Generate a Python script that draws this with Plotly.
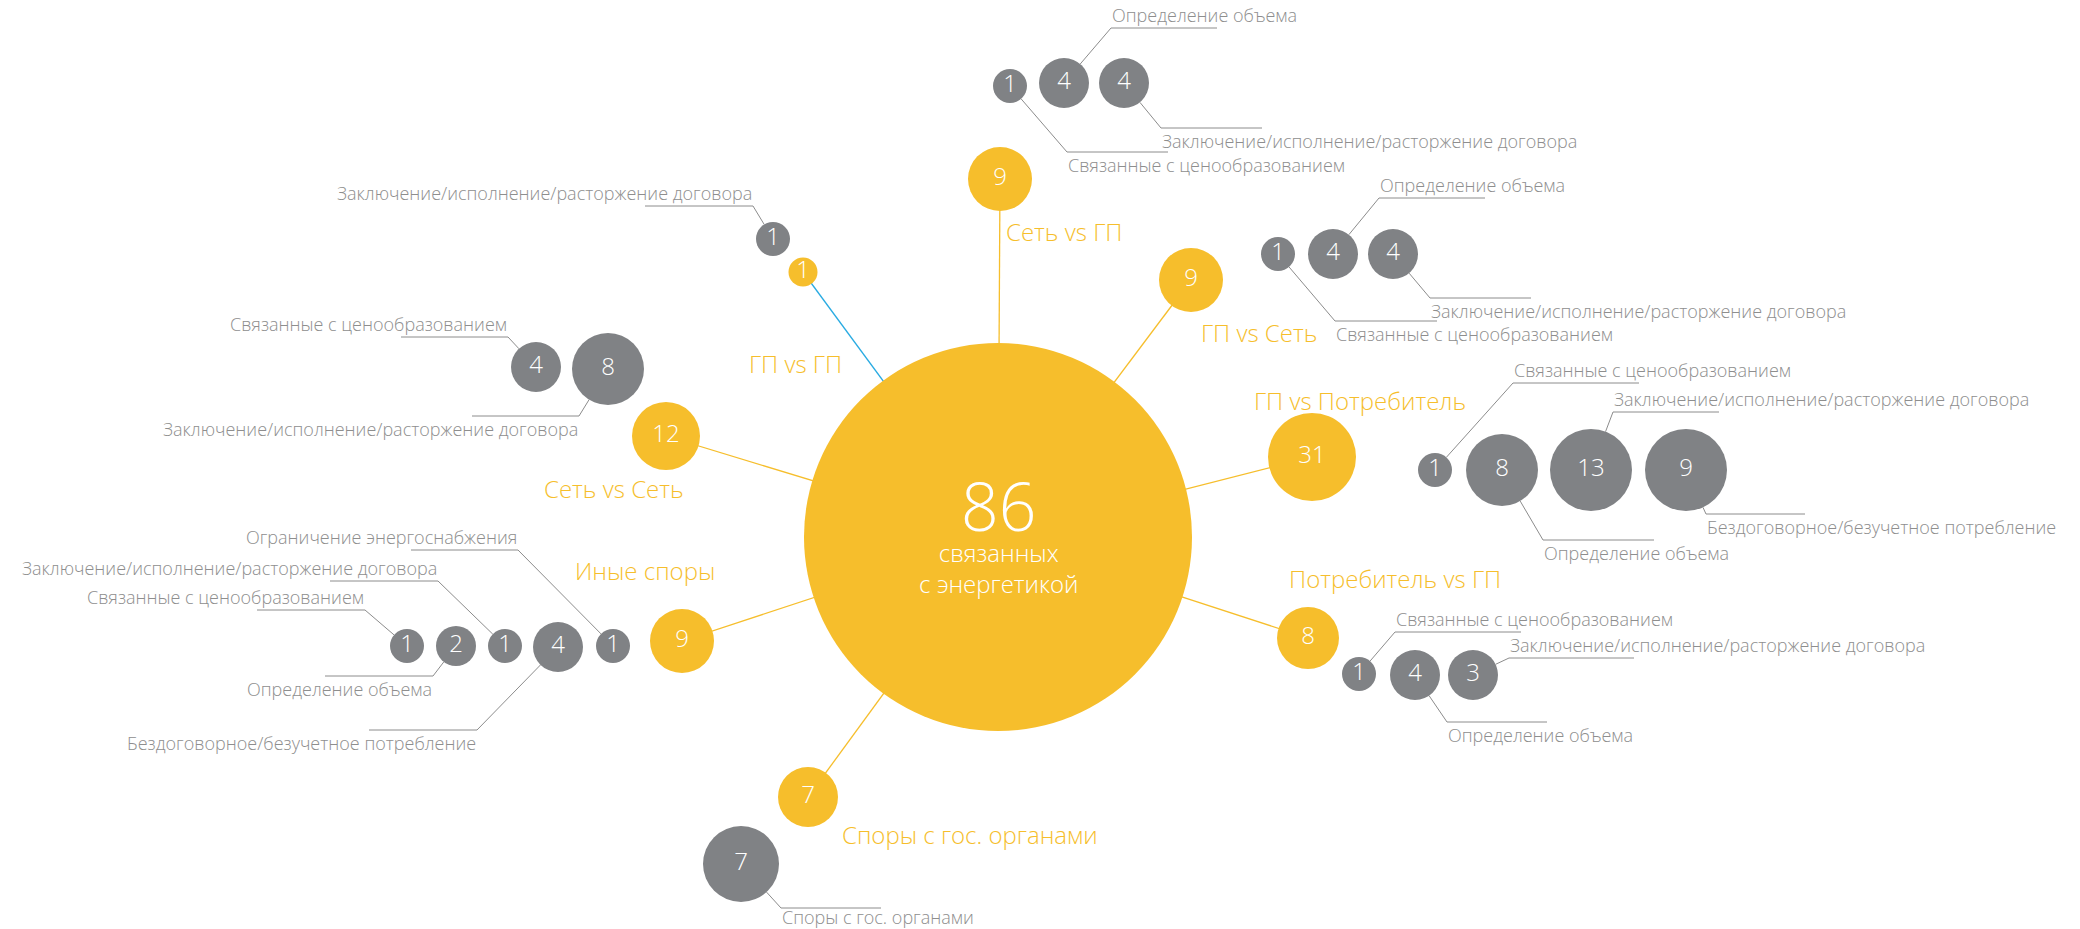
import math
import plotly.graph_objects as go

# ---------------- data ----------------
total_value = 86
total_caption = ["связанных", "с энергетикой"]

categories = ["Сеть vs ГП", "ГП vs ГП", "ГП vs Сеть", "ГП vs Потребитель",
              "Потребитель vs ГП", "Сеть vs Сеть", "Иные споры", "Споры с гос. органами"]
category_values = [9, 1, 9, 31, 8, 12, 9, 7]

L_PRICE = "Связанные с ценообразованием"
L_VOLUME = "Определение объема"
L_CONTRACT = "Заключение/исполнение/расторжение договора"
L_NOCONTRACT = "Бездоговорное/безучетное потребление"
L_LIMIT = "Ограничение энергоснабжения"
L_GOV = "Споры с гос. органами"

sub_category = ["Сеть vs ГП"] * 3 + ["ГП vs ГП"] + ["ГП vs Сеть"] * 3 + \
               ["ГП vs Потребитель"] * 4 + ["Потребитель vs ГП"] * 3 + \
               ["Сеть vs Сеть"] * 2 + ["Иные споры"] * 5 + ["Споры с гос. органами"]
sub_values = [1, 4, 4,
              1,
              1, 4, 4,
              1, 8, 13, 9,
              1, 4, 3,
              4, 8,
              1, 2, 1, 4, 1,
              7]
sub_labels = [L_PRICE, L_VOLUME, L_CONTRACT,
              L_CONTRACT,
              L_PRICE, L_VOLUME, L_CONTRACT,
              L_PRICE, L_VOLUME, L_CONTRACT, L_NOCONTRACT,
              L_PRICE, L_VOLUME, L_CONTRACT,
              L_PRICE, L_CONTRACT,
              L_PRICE, L_VOLUME, L_CONTRACT, L_NOCONTRACT, L_LIMIT,
              L_GOV]

# ---------------- layout: positions, sizes, styles ----------------
W, H = 2080, 929
YELLOW = "#F6BE2C"
GREY = "#808285"
LEADER = "#8C8C8C"
TEXT_GREY = "#8E8E8E"
BLUE = "#29ABE2"
FONT = "Open Sans"

hub = dict(x=998, y=537, r=194)

# (x, y, radius, label_x, label_y, label_anchor)
cat_layout = [
    (1000, 179, 32, 1004, 231, "left"),
    (803, 272, 14.5, 795, 363, "center"),
    (1191, 280, 32, 1199, 332, "left"),
    (1312, 457, 44, 1252, 400, "left"),
    (1308, 638, 31, 1287, 578, "left"),
    (666, 436, 34, 686, 488, "right"),
    (682, 641, 32, 717, 570, "right"),
    (808, 797, 30, 840, 834, "left"),
]
connector_colors = [YELLOW, BLUE, YELLOW, YELLOW, YELLOW, YELLOW, YELLOW, YELLOW]

# (x, y, radius, elbow_x, elbow_y, end_x, label side)
sub_layout = [
    (1010, 86, 17, 1067, 152, 1168, "below"),
    (1064, 83, 25, 1111, 28, 1217, "above"),
    (1124, 83, 25, 1161, 128, 1262, "below"),
    (773, 239, 17, 753, 206, 645, "above"),
    (1278, 254, 17, 1335, 321, 1437, "below"),
    (1333, 254, 25, 1379, 198, 1485, "above"),
    (1393, 254, 25, 1430, 298, 1531, "below"),
    (1435, 470, 17, 1513, 383, 1639, "above"),
    (1502, 470, 36, 1543, 540, 1654, "below"),
    (1591, 470, 41, 1613, 412, 1719, "above"),
    (1686, 470, 41, 1706, 514, 1805, "below"),
    (1359, 674, 17, 1395, 632, 1521, "above"),
    (1415, 675, 25, 1447, 722, 1547, "below"),
    (1473, 675, 25, 1509, 658, 1634, "above"),
    (536, 367, 25, 508, 337, 401, "above"),
    (608, 369, 36, 579, 416, 472, "below"),
    (407, 646, 17, 365, 610, 257, "above"),
    (456, 646, 20, 433, 676, 325, "below"),
    (505, 646, 17, 438, 581, 330, "above"),
    (558, 647, 25, 477, 730, 369, "below"),
    (613, 646, 17, 518, 550, 411, "above"),
    (741, 864, 38, 781, 908, 881, "below"),
]

fig = go.Figure()

# connectors hub -> categories
for i, name in enumerate(categories):
    cx, cy, r, lx, ly, anc = cat_layout[i]
    fig.add_trace(go.Scatter(x=[hub["x"], cx], y=[hub["y"], cy], mode="lines",
                             line=dict(color=connector_colors[i], width=1.3),
                             hoverinfo="skip", showlegend=False))

# leader lines for sub circles
for j in range(len(sub_values)):
    cx, cy, r, ex, ey, hx, side = sub_layout[j]
    d = math.hypot(ex - cx, ey - cy)
    sx = cx + (ex - cx) / d * r
    sy = cy + (ey - cy) / d * r
    fig.add_trace(go.Scatter(x=[sx, ex, hx], y=[sy, ey, ey], mode="lines",
                             line=dict(color=LEADER, width=1),
                             hoverinfo="skip", showlegend=False))

num_font = dict(family=FONT, size=24, color="white", weight=300)

# hub circle
fig.add_trace(go.Scatter(x=[hub["x"]], y=[hub["y"]], mode="markers",
                         marker=dict(size=2 * hub["r"], color=YELLOW, opacity=1, line=dict(width=0)),
                         hoverinfo="skip", showlegend=False))

# category circles
fig.add_trace(go.Scatter(
    x=[c[0] for c in cat_layout], y=[c[1] for c in cat_layout],
    mode="markers+text", text=[str(v) for v in category_values],
    textposition="middle center", textfont=num_font,
    marker=dict(size=[2 * c[2] for c in cat_layout], color=YELLOW, opacity=1, line=dict(width=0)),
    hoverinfo="skip", showlegend=False))

# sub circles
fig.add_trace(go.Scatter(
    x=[s[0] for s in sub_layout], y=[s[1] for s in sub_layout],
    mode="markers+text", text=[str(v) for v in sub_values],
    textposition="middle center", textfont=num_font,
    marker=dict(size=[2 * s[2] for s in sub_layout], color=GREY, opacity=1, line=dict(width=0)),
    hoverinfo="skip", showlegend=False))

annotations = []
# hub text: total value + caption in one text block
hub_text = "<span style='font-size:66px'>" + str(total_value) + "</span><br>" + "<br>".join(total_caption)
annotations.append(dict(x=hub["x"], y=hub["y"] - 7, text=hub_text, showarrow=False,
                        xanchor="center", yanchor="middle", borderpad=0,
                        font=dict(family=FONT, size=24, color="white", weight=300)))

# category labels
for i, name in enumerate(categories):
    cx, cy, r, lx, ly, anc = cat_layout[i]
    annotations.append(dict(x=lx, y=ly, text=name, showarrow=False,
                            xanchor=anc, yanchor="middle",
                            font=dict(family=FONT, size=24, color=YELLOW, weight=300)))

# sub labels
for j, lab in enumerate(sub_labels):
    cx, cy, r, ex, ey, hx, side = sub_layout[j]
    anc = "left" if hx > ex else "right"
    if side == "above":
        annotations.append(dict(x=ex, y=ey - 13, text=lab, showarrow=False,
                                xanchor=anc, yanchor="middle", borderpad=0,
                                font=dict(family=FONT, size=18, color=TEXT_GREY, weight=300)))
    else:
        annotations.append(dict(x=ex, y=min(ey + 13, H - 12), text=lab, showarrow=False,
                                xanchor=anc, yanchor="middle", borderpad=0,
                                font=dict(family=FONT, size=18, color=TEXT_GREY, weight=300)))

fig.update_layout(
    width=W, height=H,
    margin=dict(l=0, r=0, t=0, b=0),
    paper_bgcolor="white", plot_bgcolor="white",
    xaxis=dict(range=[0, W], visible=False, fixedrange=True),
    yaxis=dict(range=[H, 0], visible=False, fixedrange=True),
    annotations=annotations,
    showlegend=False,
)

fig.write_html("out.html", config={"displayModeBar": False},
               post_script="document.body.style.margin='0';document.body.style.overflow='hidden';")
